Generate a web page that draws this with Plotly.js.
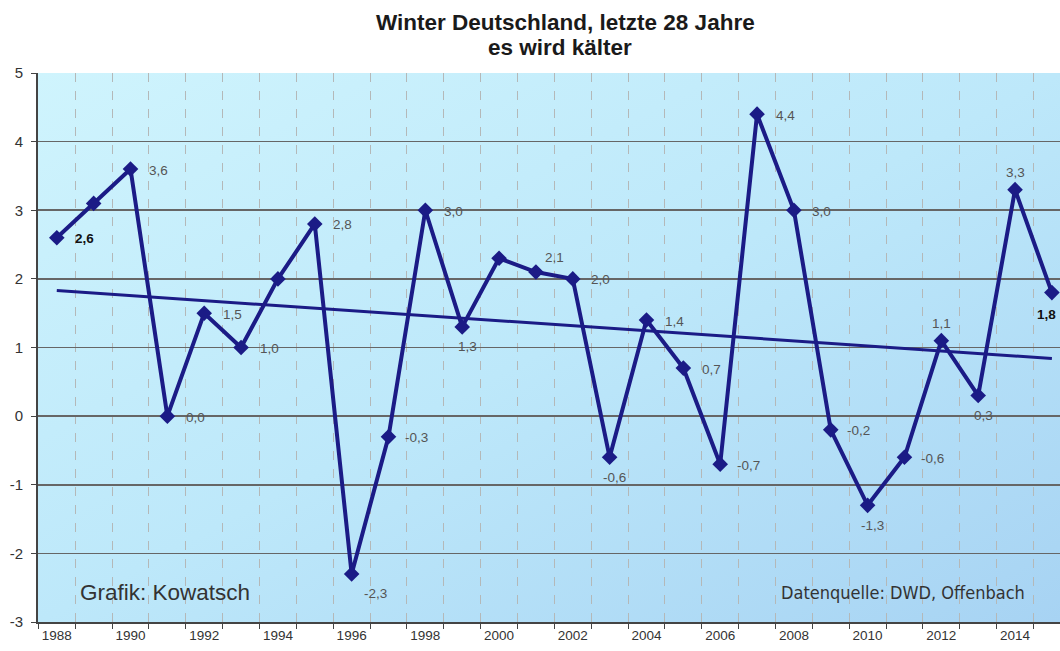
<!DOCTYPE html>
<html>
<head>
<meta charset="utf-8">
<script src="https://cdn.plot.ly/plotly-3.0.1.min.js"></script>
<style>
html,body{margin:0;padding:0;background:#fff;}
#chart{width:1060px;height:651px;}
</style>
</head>
<body>
<div id="chart"></div>
<script>
// ---- data ----
const years = [1988,1989,1990,1991,1992,1993,1994,1995,1996,1997,1998,1999,2000,2001,
               2002,2003,2004,2005,2006,2007,2008,2009,2010,2011,2012,2013,2014,2015];
const temps = [2.6,3.1,3.6,0.0,1.5,1.0,2.0,2.8,-2.3,-0.3,3.0,1.3,2.3,2.1,
               2.0,-0.6,1.4,0.7,-0.7,4.4,3.0,-0.2,-1.3,-0.6,1.1,0.3,3.3,1.8];
const showLabel = [1,0,1,1,1,1,0,1,1,1,1,1,0,1,1,1,1,1,1,1,1,1,1,1,1,1,1,1];
const boldLabel = [1,0,0,0,0,0,0,0,0,0,0,0,0,0,0,0,0,0,0,0,0,0,0,0,0,0,0,1];
// label placement: R = right, B = below, T = above, BR = below right, BL = below left
const labelPlace = ['R','','R','R','R','R','','R','BR','R','R','B','','TR',
                    'R','B','R','R','R','R','R','R','B','R','T','B','T','BL'];
const trendYears = [1988, 2015];
const trendValues = [1.83, 0.84];
const xTickYears = [1988,1990,1992,1994,1996,1998,2000,2002,2004,2006,2008,2010,2012,2014];
const yTicks = [-3,-2,-1,0,1,2,3,4,5];

// ---- styling helpers ----
const placeShift = {
  R:  {dx: 28, dy: -1},
  B:  {dx: 5,  dy: -20},
  BL: {dx: -5, dy: -22},
  BR: {dx: 24, dy: -20},
  T:  {dx: 0,  dy: 17},
  TR: {dx: 19, dy: 15}
};

const bgSvg = '<svg xmlns="http://www.w3.org/2000/svg" width="100" height="100" preserveAspectRatio="none">' +
  '<defs><linearGradient id="g" x1="0" y1="0" x2="1" y2="1">' +
  '<stop offset="0" stop-color="#cff4fd"/><stop offset="0.5" stop-color="#bde8fa"/>' +
  '<stop offset="1" stop-color="#a7d3f3"/></linearGradient></defs>' +
  '<rect width="100" height="100" fill="url(#g)"/></svg>';
const bgUri = 'data:image/svg+xml;base64,' + btoa(bgSvg);

const navy = '#1b1b86';
const fontFam = 'Arial, Liberation Sans, sans-serif';

const labelAnnotations = [];
years.forEach((yr, i) => {
  if (!showLabel[i]) return;
  const s = temps[i].toFixed(1).replace('.', ',');
  const p = placeShift[labelPlace[i]];
  labelAnnotations.push({
    x: yr, y: temps[i], xref: 'x', yref: 'y', showarrow: false,
    text: boldLabel[i] ? '<b>' + s + '</b>' : s,
    xanchor: 'center', yanchor: 'middle',
    xshift: p.dx, yshift: p.dy,
    font: {family: fontFam, size: 13.5, color: boldLabel[i] ? '#111' : '#555'}
  });
});

const traces = [
  {
    x: trendYears, y: trendValues, mode: 'lines', type: 'scatter',
    line: {color: navy, width: 3}, hoverinfo: 'skip', showlegend: false
  },
  {
    x: years, y: temps, mode: 'lines+markers', type: 'scatter',
    line: {color: navy, width: 4},
    marker: {symbol: 'diamond', size: 12, color: navy},
    cliponaxis: false, showlegend: false
  }
];

const layout = {
  width: 1060, height: 651,
  margin: {l: 38, r: 0, t: 73, b: 29, pad: 0},
  paper_bgcolor: '#ffffff',
  plot_bgcolor: 'rgba(0,0,0,0)',
  font: {family: fontFam, color: '#333'},
  showlegend: false,
  xaxis: {
    range: [1987.49, 2015.22],
    tickmode: 'array', tickvals: xTickYears, ticktext: xTickYears.map(String),
    showgrid: false, ticks: '', zeroline: false,
    showline: true, linecolor: '#444', linewidth: 2,
    tickfont: {size: 13.5, color: '#333'},
    minor: {tick0: 1987.5, dtick: 1, showgrid: true, gridcolor: '#b4b8b8', griddash: 'dash',
            gridwidth: 1, ticks: 'outside', ticklen: 5, tickcolor: '#444', tickwidth: 1}
  },
  yaxis: {
    range: [-3, 5],
    tickmode: 'array', tickvals: yTicks, ticktext: yTicks.map(String),
    showgrid: true, gridcolor: '#666666', gridwidth: 1.6,
    zeroline: false, showline: true, linecolor: '#444', linewidth: 2,
    ticks: 'outside', ticklen: 5, tickcolor: '#444',
    ticklabelstandoff: 5,
    tickfont: {size: 15, color: '#333'}
  },
  images: [{
    source: bgUri, xref: 'paper', yref: 'paper', x: 0, y: 1, sizex: 1, sizey: 1,
    xanchor: 'left', yanchor: 'top', sizing: 'stretch', layer: 'below'
  }],
  annotations: [
    {text: '<b>Winter Deutschland, letzte 28 Jahre</b>', xref: 'paper', yref: 'paper',
     x: (565 - 38) / 1022, y: 1, yshift: 51, xanchor: 'center', yanchor: 'middle', showarrow: false,
     font: {size: 22.5, color: '#1a1a1a', family: fontFam}},
    {text: '<b>es wird kälter</b>', xref: 'paper', yref: 'paper',
     x: (560 - 38) / 1022, y: 1, yshift: 26, xanchor: 'center', yanchor: 'middle', showarrow: false,
     font: {size: 22.5, color: '#1a1a1a', family: fontFam}},
    {text: 'Grafik: Kowatsch', xref: 'x', yref: 'y', x: 1988.57, y: -2.57,
     xanchor: 'left', yanchor: 'middle', showarrow: false,
     font: {size: 22.5, color: '#333', family: fontFam}},
    {text: 'Datenquelle: DWD, Offenbach', xref: 'x', yref: 'y', x: 2007.6, y: -2.57,
     xanchor: 'left', yanchor: 'middle', showarrow: false,
     font: {size: 18, color: '#333', family: 'DejaVu Sans Condensed, Arial, sans-serif'}}
  ].concat(labelAnnotations)
};

Plotly.newPlot('chart', traces, layout, {displayModeBar: false, staticPlot: true});
</script>
</body>
</html>
